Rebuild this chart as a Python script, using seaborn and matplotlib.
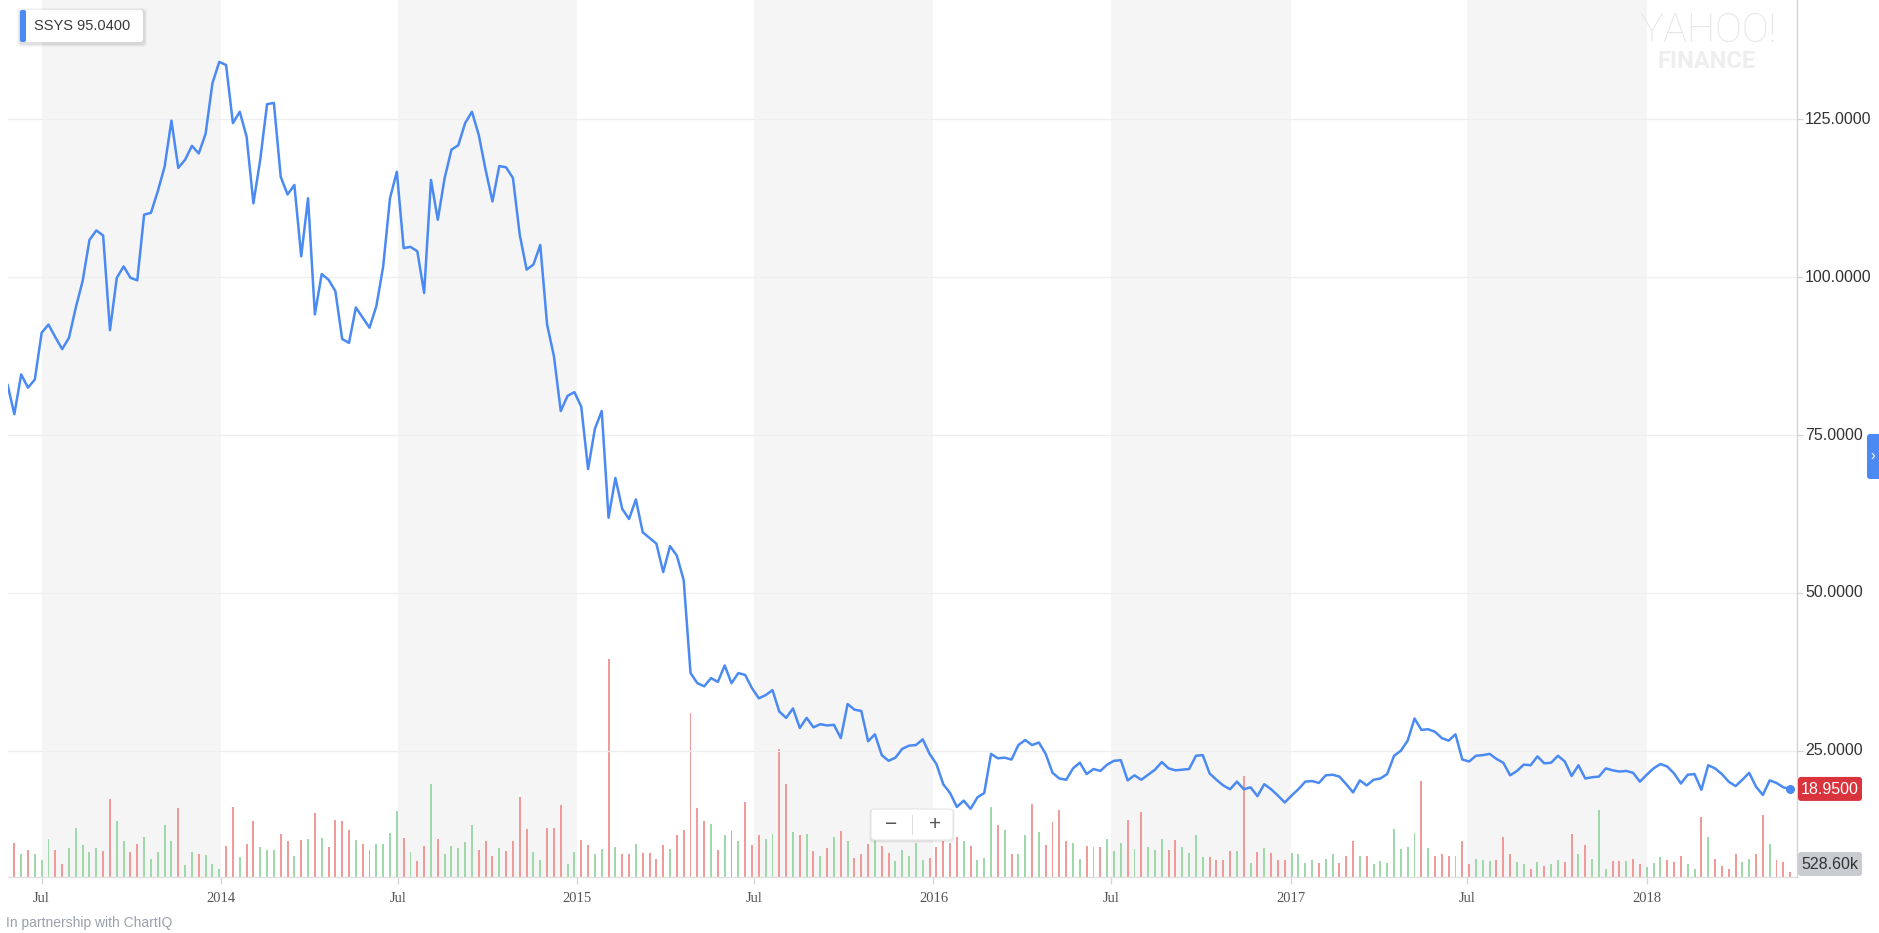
import numpy as np
import pandas as pd
import matplotlib
matplotlib.use("Agg")
import matplotlib.pyplot as plt
import matplotlib.transforms as mtransforms
from matplotlib.patches import FancyBboxPatch, Rectangle
import seaborn as sns

# ---------------- DATA ---------------- #
ticker = "SSYS"
legend_value = "95.0400"
last_volume_label = "528.60k"
start_date = "2013-05-27"

# weekly closing price (first value sits just left of the visible window)
close = [
    83.0,
    78.3, 84.6, 82.5, 83.8, 91.2, 92.5, 90.5, 88.6, 90.4, 95.2,
    99.4, 105.9, 107.4, 106.6, 91.6, 99.9, 101.7, 99.9, 99.5, 109.9,
    110.2, 113.6, 117.5, 124.8, 117.3, 118.6, 120.8, 119.6, 122.7, 130.7,
    134.1, 133.6, 124.4, 126.2, 122.3, 111.7, 118.6, 127.4, 127.6, 115.9,
    113.1, 114.6, 103.3, 112.5, 94.1, 100.5, 99.6, 97.8, 90.2, 89.6,
    95.2, 93.6, 92.0, 95.4, 101.7, 112.5, 116.7, 104.6, 104.8, 104.1,
    97.5, 115.4, 109.1, 115.7, 120.2, 120.9, 124.4, 126.2, 122.5, 117.0,
    112.0, 117.6, 117.4, 115.7, 106.7, 101.2, 102.0, 105.1, 92.5, 87.5,
    78.8, 81.2, 81.8, 79.5, 69.6, 76.0, 78.8, 61.9, 68.2, 63.3,
    61.7, 64.8, 59.6, 58.7, 57.8, 53.3, 57.4, 55.9, 52.0, 37.3,
    35.7, 35.2, 36.5, 35.9, 38.5, 35.7, 37.3, 37.0, 34.9, 33.3,
    33.8, 34.6, 31.2, 30.2, 31.7, 28.6, 30.2, 28.7, 29.2, 29.0,
    29.1, 27.0, 32.4, 31.5, 31.3, 26.5, 27.6, 24.3, 23.4, 23.9,
    25.3, 25.8, 25.9, 26.8, 24.5, 22.9, 19.7, 18.3, 16.1, 17.1,
    15.8, 17.6, 18.3, 24.5, 23.8, 23.9, 23.6, 25.9, 26.7, 25.9,
    26.3, 24.5, 21.5, 20.6, 20.4, 22.2, 23.1, 21.3, 22.1, 21.8,
    22.8, 23.4, 23.5, 20.3, 21.1, 20.4, 21.2, 22.0, 23.2, 22.2,
    21.9, 22.0, 22.1, 24.2, 24.3, 21.4, 20.4, 19.5, 18.9, 20.1,
    18.9, 19.2, 17.8, 19.7, 18.9, 17.9, 16.8, 17.9, 18.9, 20.1,
    20.2, 19.9, 21.1, 21.2, 20.9, 19.7, 18.4, 20.3, 19.5, 20.4,
    20.6, 21.3, 24.2, 25.0, 26.6, 30.1, 28.3, 28.4, 28.0, 27.0,
    26.6, 27.6, 23.6, 23.3, 24.2, 24.3, 24.5, 23.7, 23.1, 21.1,
    21.8, 22.8, 22.7, 24.1, 23.0, 23.1, 24.2, 23.3, 21.0, 22.7,
    20.6, 20.8, 20.9, 22.2, 21.9, 21.7, 21.8, 21.5, 20.1, 21.2,
    22.2, 22.9, 22.5, 21.4, 19.8, 21.2, 21.3, 18.8, 22.7, 22.2,
    21.3, 20.1, 19.4, 20.4, 21.5, 19.3, 18.0, 20.3, 19.9, 19.2,
    18.95,
]

# weekly volume, millions of shares
volume_m = [
    3.0,
    3.4, 2.3, 2.7, 2.3, 1.7, 3.8, 2.7, 1.3, 2.9, 4.9,
    3.2, 2.5, 2.9, 2.6, 7.8, 5.6, 3.6, 2.5, 3.3, 4.0,
    1.8, 2.5, 5.2, 3.6, 6.9, 1.2, 2.5, 2.3, 2.2, 1.3,
    0.8, 3.1, 7.0, 2.0, 3.3, 5.6, 3.0, 2.7, 2.7, 4.3,
    3.6, 2.1, 3.7, 3.8, 6.4, 3.9, 3.0, 5.7, 5.6, 4.7,
    3.7, 3.3, 2.7, 3.3, 3.3, 4.4, 6.6, 3.9, 2.5, 1.6,
    3.1, 9.3, 3.8, 2.3, 3.1, 2.9, 3.5, 5.2, 2.7, 3.6,
    2.1, 2.9, 2.6, 3.6, 8.0, 4.8, 2.5, 1.7, 4.9, 4.9,
    7.2, 1.3, 2.5, 3.7, 3.2, 2.3, 2.8, 21.8, 3.0, 2.3,
    2.3, 3.3, 2.4, 2.4, 1.8, 3.2, 2.8, 4.2, 4.7, 16.4,
    6.9, 5.6, 5.3, 2.7, 4.2, 4.6, 3.6, 7.5, 3.2, 4.2,
    3.8, 4.3, 12.8, 9.3, 4.5, 4.2, 4.3, 2.6, 2.1, 2.9,
    4.0, 4.6, 3.6, 1.9, 2.3, 3.3, 3.7, 3.1, 2.4, 1.6,
    2.7, 2.1, 3.4, 1.7, 1.9, 3.0, 3.6, 3.4, 4.0, 3.6,
    3.1, 1.7, 1.9, 7.0, 5.2, 4.7, 2.3, 2.3, 4.2, 7.3,
    4.5, 3.2, 5.5, 6.7, 3.6, 3.4, 1.8, 3.1, 3.0, 3.0,
    3.8, 2.6, 3.4, 5.7, 2.8, 6.5, 3.0, 2.7, 3.8, 2.7,
    3.7, 3.0, 2.4, 4.2, 2.0, 2.0, 1.7, 1.7, 2.6, 2.6,
    10.1, 1.4, 2.5, 2.9, 2.4, 1.7, 1.7, 2.4, 2.3, 1.4,
    1.7, 1.4, 1.8, 2.3, 1.4, 2.1, 3.6, 2.1, 2.1, 1.3,
    1.6, 1.4, 4.8, 2.8, 3.0, 4.4, 9.6, 2.9, 2.1, 2.3,
    2.1, 2.1, 3.6, 1.3, 1.8, 1.7, 1.6, 1.7, 4.0, 2.3,
    1.5, 1.3, 0.8, 1.5, 1.1, 1.3, 1.7, 1.5, 4.3, 2.3,
    3.2, 1.8, 6.7, 0.8, 1.6, 1.6, 1.6, 1.8, 1.3, 1.0,
    1.4, 2.0, 1.7, 1.5, 2.1, 1.3, 0.8, 6.0, 4.0, 1.8,
    1.1, 0.8, 2.3, 1.5, 1.8, 2.3, 6.2, 3.3, 1.7, 1.5,
    0.53,
]

price_ticks = [25, 50, 75, 100, 125]
tick_dates = ["2013-07-01", "2014-01-01", "2014-07-01", "2015-01-01", "2015-07-01",
              "2016-01-01", "2016-07-01", "2017-01-01", "2017-07-01", "2018-01-01"]
tick_labels = ["Jul", "2014", "Jul", "2015", "Jul", "2016", "Jul", "2017", "Jul", "2018"]
band_years = [2013, 2014, 2015, 2016, 2017]

df = pd.DataFrame({
    "date": pd.date_range(start_date, periods=len(close), freq="7D"),
    "close": close,
    "volume": volume_m,
})
down = df["close"].diff().fillna(-1) < 0
df["bar_color"] = np.where(down, "#f19a9a", "#9fd8aa")

# ---------------- FIGURE ---------------- #
sns.set_theme(style="white")
plt.rcParams["font.family"] = ["Liberation Sans", "DejaVu Sans"]

W, H = 1879, 933
fig = plt.figure(figsize=(W / 100, H / 100), dpi=100)
fig.patch.set_facecolor("white")

ax = fig.add_axes([8 / W, 56 / H, 1789 / W, 877 / H])
ax2 = ax.twinx()

LINE_BLUE = "#4a8af2"
GRID = "#eeeeee"
AXIS = "#d4d4d4"

# half-year bands
for y in band_years:
    ax.axvspan(pd.Timestamp(f"{y}-07-01"), pd.Timestamp(f"{y + 1}-01-01"),
               color="#f5f5f5", lw=0, zorder=0)

# volume bars
ax.bar(df["date"], df["volume"], width=2.0, color=df["bar_color"], linewidth=0, zorder=2)
ax.set_ylim(0, 87.7)
ax.set_yticks([])

# price line
sns.lineplot(data=df, x="date", y="close", ax=ax2, color=LINE_BLUE, linewidth=1.8, zorder=5)
ax2.scatter(df["date"].iloc[-1], df["close"].iloc[-1], s=30, color=LINE_BLUE, zorder=6, clip_on=False)
ax2.set_ylim(5.0, 143.9)
ax2.set_yticks(price_ticks)
ax2.set_yticklabels([])
ax2.grid(axis="y", color=GRID, lw=0.9)
ax2.grid(axis="x", visible=False)
ax2.set_axisbelow(True)
ax2.tick_params(axis="y", right=True, length=4, color=AXIS, width=0.9)
ax2.set_xlabel("")
ax2.set_ylabel("")

ax.set_xlim(pd.Timestamp("2013-05-27 12:00"), pd.Timestamp("2018-06-04"))
ax.set_xticks(pd.to_datetime(tick_dates))
ax.set_xticklabels(tick_labels, fontfamily="Liberation Serif", fontsize=10.5, color="#555555")
ax.tick_params(axis="x", bottom=True, length=5, color=AXIS, width=0.9, pad=6)
ax.set_xlabel("")

for s in ["top", "left", "right"]:
    ax.spines[s].set_visible(False)
ax.spines["bottom"].set_color("#e0e0e0")
ax.spines["bottom"].set_linewidth(1.0)
for s in ["top", "left", "bottom"]:
    ax2.spines[s].set_visible(False)
ax2.spines["right"].set_color(AXIS)
ax2.spines["right"].set_linewidth(1.0)

# ---------------- ANNOTATIONS (pixel helpers) ---------------- #
ident = mtransforms.IdentityTransform()


def box(x0, y0_top, w, h, fc, ec="none", lw=0, r=3, z=10, alpha=1.0):
    p = FancyBboxPatch((x0, H - y0_top - h), w, h, boxstyle=f"round,pad=0,rounding_size={r}",
                       transform=ident, fc=fc, ec=ec, lw=lw, zorder=z, alpha=alpha)
    fig.add_artist(p)
    return p


def ptext(x, y_top, s, **kw):
    return fig.text(x / W, 1 - y_top / H, s, **kw)


# right axis labels, clipped at the right edge like the original
clip = mtransforms.TransformedBbox(mtransforms.Bbox([[0, 0], [1876 / W, 1]]), fig.transFigure)
lab_tr = mtransforms.blended_transform_factory(fig.transFigure, ax2.transData)
for v in price_ticks:
    t = fig.text(1805 / W, v, f"{v:.4f}", transform=lab_tr, ha="left", va="center",
                 fontsize=11.5, color="#333333")
    t.set_clip_box(clip)
    t.set_clip_on(True)

# last price tag
last_y = H - ax2.transData.transform((0, df["close"].iloc[-1]))[1]
box(1798, last_y - 12, 64, 24, "#d9343d", r=3)
ptext(1830, last_y + 0.5, f"{df['close'].iloc[-1]:.4f}", ha="center", va="center",
      fontsize=11.5, color="white", zorder=11)

# last volume tag
box(1798, 852, 64, 24, "#c9ccd1", r=3)
ptext(1830, 864.5, last_volume_label, ha="center", va="center", fontsize=11.5, color="#333333", zorder=11)

# legend chip top-left
for k, a in enumerate([0.05, 0.04, 0.03]):
    box(20 - k - 1, 10 - k, 124 + 2 * k + 2, 33 + 2 * k + 2, "#000000", alpha=a, r=4, z=8)
box(20, 10, 123, 32, "white", r=3, z=9)
box(20, 10, 6, 32, LINE_BLUE, r=2, z=10)
ptext(34, 26.5, f"{ticker} {legend_value}", ha="left", va="center", fontsize=10.5, color="#3a3a3a", zorder=11)

# watermark
ptext(1708, 31, "YAHOO!", ha="center", va="center", fontsize=29, fontfamily="Roboto",
      fontweight="light", color="#e6e6e6", zorder=1)
ptext(1707, 61, "FINANCE", ha="center", va="center", fontsize=17, fontfamily="Roboto",
      fontweight="bold", color="#eeeeee", zorder=1)

# zoom control
for k, a in enumerate([0.05, 0.03]):
    box(870 - k, 809 - k + 1, 84 + 2 * k, 32 + 2 * k, "#000000", alpha=a, r=3, z=8)
box(871, 809, 82, 31, "white", ec="#e4e4e4", lw=0.8, r=3, z=9)
ptext(891, 825, "\u2212", ha="center", va="center", fontsize=15, color="#555555", zorder=11)
ptext(935, 825, "+", ha="center", va="center", fontsize=15, color="#555555", zorder=11)
fig.add_artist(Rectangle((912, H - 835), 1, 20, transform=ident, fc="#dddddd", ec="none", zorder=11))

# collapse tab on the right edge
box(1867, 434, 16, 45, LINE_BLUE, r=3)
ptext(1873, 456, "\u203a", ha="center", va="center", fontsize=10, color="white", zorder=11)

# footer
ptext(6, 923, "In partnership with ChartIQ", ha="left", va="center", fontsize=10, color="#9aa1aa")

plt.savefig("out.png", dpi=100, facecolor="white")
